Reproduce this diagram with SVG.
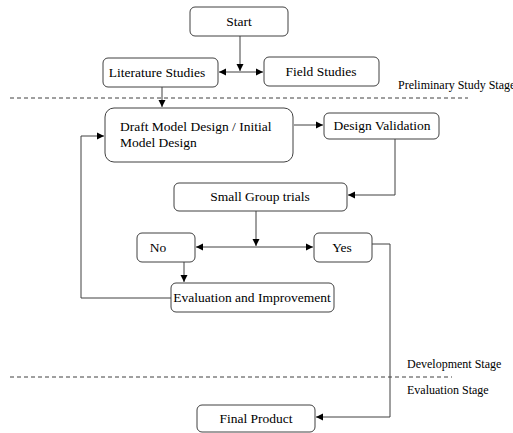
<svg xmlns="http://www.w3.org/2000/svg" width="513" height="433" viewBox="0 0 513 433">
<defs>
<marker id="ah" markerWidth="8" markerHeight="8" refX="7" refY="4" orient="auto" markerUnits="userSpaceOnUse">
<path d="M0,0.5 L7,4 L0,7.5 Z" fill="#000"/>
</marker>
<style>
.box{fill:#fff;stroke:#404040;stroke-width:1}
.t{font-family:"Liberation Serif","Times New Roman",serif;font-size:13.5px;fill:#000}
.s{font-family:"Liberation Serif","Times New Roman",serif;font-size:12px;fill:#000}
.c{fill:none;stroke:#404040;stroke-width:1}
.d{fill:none;stroke:#404040;stroke-width:1;stroke-dasharray:4,3}
</style>
</defs>
<rect width="513" height="433" fill="#fff"/>
<g id="stages">
<line class="d" x1="10" y1="98" x2="468" y2="98"/>
<line class="d" x1="10" y1="377" x2="452" y2="377"/>
<text class="s" x="398" y="89">Preliminary Study Stage</text>
<text class="s" x="407" y="368">Development Stage</text>
<text class="s" x="407" y="394">Evaluation Stage</text>
</g>
<g id="connectors">
<line class="c" x1="240" y1="36" x2="240" y2="71" marker-end="url(#ah)"/>
<line class="c" x1="240" y1="72" x2="219" y2="72" marker-end="url(#ah)"/>
<line class="c" x1="240" y1="72" x2="263" y2="72" marker-end="url(#ah)"/>
<line class="c" x1="162" y1="87" x2="162" y2="107" marker-end="url(#ah)"/>
<line class="c" x1="294" y1="125" x2="323" y2="125" marker-end="url(#ah)"/>
<polyline class="c" points="395,139 395,195 348,195" marker-end="url(#ah)"/>
<line class="c" x1="256" y1="211" x2="256" y2="246" marker-end="url(#ah)"/>
<line class="c" x1="256" y1="247" x2="196" y2="247" marker-end="url(#ah)"/>
<line class="c" x1="256" y1="247" x2="313" y2="247" marker-end="url(#ah)"/>
<line class="c" x1="184" y1="262" x2="184" y2="282" marker-end="url(#ah)"/>
<polyline class="c" points="171,298 81,298 81,136 104,136" marker-end="url(#ah)"/>
<polyline class="c" points="372,244 390,244 390,417 316,417" marker-end="url(#ah)"/>
</g>
<g id="start"><rect class="box" x="190" y="7" width="98" height="29" rx="5"/><text class="t" x="239" y="26" text-anchor="middle">Start</text></g>
<g id="literature"><rect class="box" x="103" y="58" width="115" height="29" rx="5"/><text class="t" x="157" y="77" text-anchor="middle">Literature Studies</text></g>
<g id="field"><rect class="box" x="264" y="57" width="115" height="29" rx="5"/><text class="t" x="321" y="76" text-anchor="middle">Field Studies</text></g>
<g id="draft"><rect class="box" x="105" y="108" width="188" height="54" rx="9"/><text class="t" x="120" y="131">Draft Model Design / Initial</text><text class="t" x="120" y="147">Model Design</text></g>
<g id="validation"><rect class="box" x="324" y="113" width="115" height="26" rx="5"/><text class="t" x="382" y="130" text-anchor="middle">Design Validation</text></g>
<g id="small"><rect class="box" x="174" y="183" width="173" height="28" rx="5"/><text class="t" x="260" y="201" text-anchor="middle">Small Group trials</text></g>
<g id="no"><rect class="box" x="137" y="233" width="58" height="29" rx="5"/><text class="t" x="158" y="252" text-anchor="middle">No</text></g>
<g id="yes"><rect class="box" x="314" y="233" width="58" height="29" rx="5"/><text class="t" x="342" y="252" text-anchor="middle">Yes</text></g>
<g id="evaluation"><rect class="box" x="171" y="283" width="163" height="29" rx="5"/><text class="t" x="252" y="302" text-anchor="middle">Evaluation and Improvement</text></g>
<g id="final"><rect class="box" x="197" y="405" width="118" height="27" rx="5"/><text class="t" x="256" y="423" text-anchor="middle">Final Product</text></g>
</svg>
